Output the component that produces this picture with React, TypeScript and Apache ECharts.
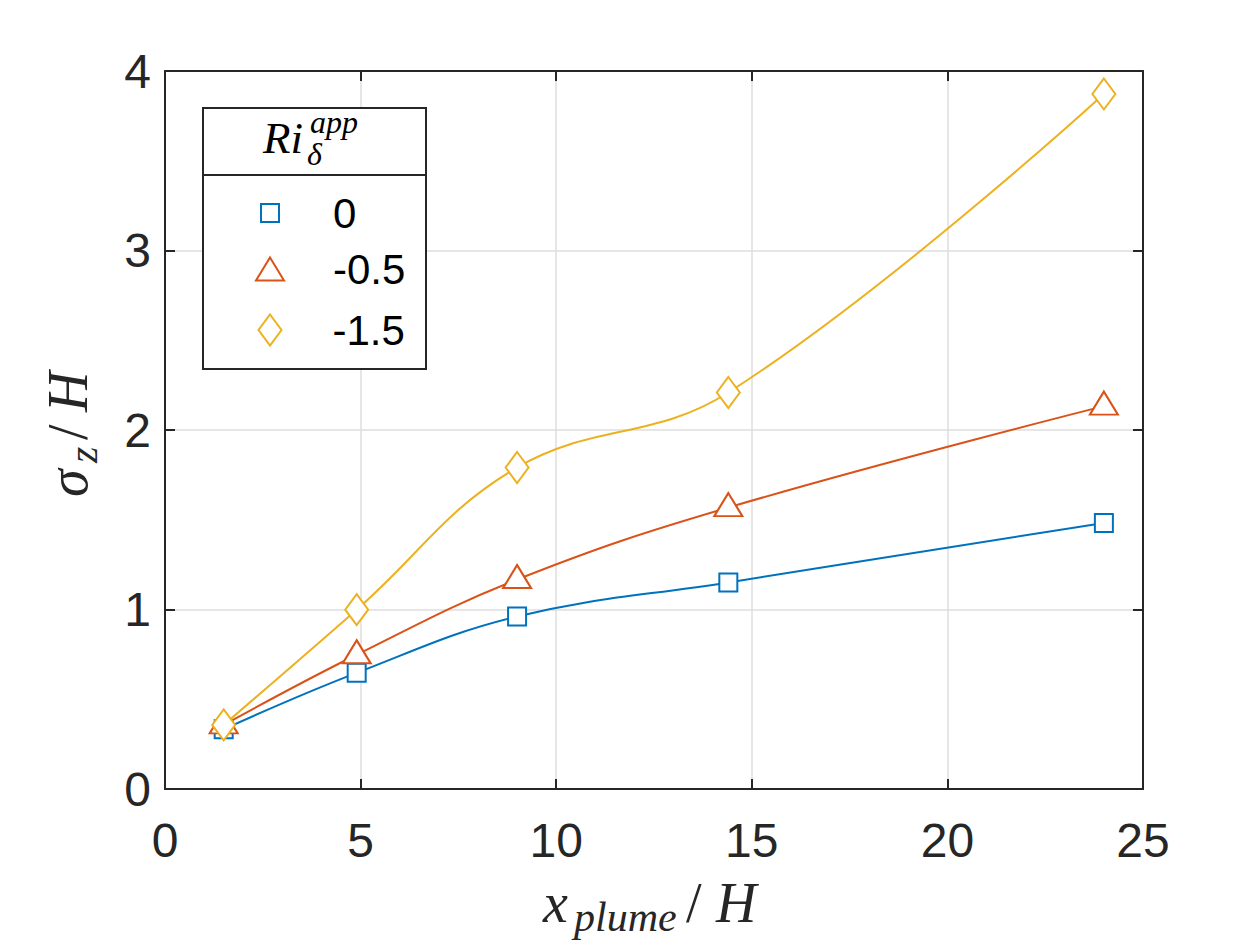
import React, { useEffect, useRef } from "react";
import * as echarts from "echarts";

// ---- data ----
const xValues = [1.5, 4.9, 9.0, 14.4, 24.0];
const seriesNames = ["0", "-0.5", "-1.5"];
const sigmaRi0 = [0.333, 0.647, 0.961, 1.151, 1.482];
const sigmaRiM05 = [0.357, 0.748, 1.167, 1.568, 2.133];
const sigmaRiM15 = [0.357, 0.999, 1.791, 2.209, 3.872];
const xTickRange = { min: 0, max: 25, step: 5 };
const yTickRange = { min: 0, max: 4, step: 1 };

const COLORS = ["#0072BD", "#D95319", "#EDB120"];
const AXIS_COLOR = "#262626";
const SANS = "Liberation Sans";
const SERIF = "Liberation Serif";

const pairs = (ys: number[]) => xValues.map((x, i) => [x, ys[i]]);

export default function App() {
  const ref = useRef<HTMLDivElement>(null);

  useEffect(() => {
    if (!ref.current) return;
    const chart = echarts.init(ref.current, undefined, { renderer: "svg" });

    const baseX = {
      type: "value" as const,
      min: xTickRange.min,
      max: xTickRange.max,
      interval: xTickRange.step,
    };
    const baseY = {
      type: "value" as const,
      min: yTickRange.min,
      max: yTickRange.max,
      interval: yTickRange.step,
    };
    const axisLine = { show: true, onZero: false, lineStyle: { color: AXIS_COLOR, width: 2 } };
    const axisTick = { show: true, inside: true, length: 10, lineStyle: { color: AXIS_COLOR, width: 2 } };
    const splitLine = { show: true, lineStyle: { color: "#dedede", width: 1.5 } };
    const tickLabel = { fontSize: 48, color: AXIS_COLOR, fontFamily: SANS };

    const symbols = ["emptyRect", "emptyTriangle", "emptyDiamond"];
    const symbolSizes: any[] = [18, [28, 23], [23, 31]];
    const symbolOffsets: any[] = [[0, 0], [0, -3], [0, 0]];
    const dataSets = [sigmaRi0, sigmaRiM05, sigmaRiM15];

    const series = seriesNames.map((name, i) => ({
      name,
      type: "line",
      data: pairs(dataSets[i]),
      smooth: 0.4,
      symbol: symbols[i],
      symbolSize: symbolSizes[i],
      symbolOffset: symbolOffsets[i],
      showAllSymbol: true,
      lineStyle: { color: COLORS[i], width: 2 },
      itemStyle: { color: COLORS[i], borderWidth: 2 },
      z: 3 + i,
    }));

    const legendTops = [192, 248, 309];
    const legendSizes = [
      [18, 18],
      [28, 23],
      [23, 31],
    ];
    const legendPads = [49, 44, 46];
    const legends = seriesNames.map((name, i) => ({
      data: [{ name, icon: symbols[i] }],
      left: 269 - legendSizes[i][0] / 2,
      top: legendTops[i],
      itemWidth: legendSizes[i][0],
      itemHeight: legendSizes[i][1],
      padding: 0,
      selectedMode: false,
      z: 10,
      textStyle: {
        fontSize: 42,
        fontFamily: SANS,
        color: "#000",
        padding: [0, 0, 0, legendPads[i]],
      },
    }));

    const serifText = (text: string, x: number, y: number, size: number, extra: any = {}) => ({
      type: "text",
      x,
      y,
      z: 12,
      style: {
        text,
        font: `italic ${size}px "${SERIF}"`,
        fill: "#262626",
        align: "left",
        verticalAlign: "middle",
        ...extra,
      },
    });

    chart.setOption({
      animation: false,
      backgroundColor: "#ffffff",
      grid: { left: 165, right: 117, top: 71, bottom: 156, containLabel: false },
      xAxis: [
        {
          ...baseX,
          position: "bottom",
          axisLine,
          axisTick,
          axisLabel: { ...tickLabel, margin: 27 },
          splitLine,
        },
        {
          ...baseX,
          position: "top",
          axisLine,
          axisTick,
          axisLabel: { show: false },
          splitLine: { show: false },
        },
      ],
      yAxis: [
        {
          ...baseY,
          position: "left",
          axisLine,
          axisTick,
          axisLabel: { ...tickLabel, margin: 14 },
          splitLine,
        },
        {
          ...baseY,
          position: "right",
          axisLine,
          axisTick,
          axisLabel: { show: false },
          splitLine: { show: false },
        },
      ],
      legend: legends,
      series,
      graphic: [
        // legend box
        {
          type: "rect",
          z: 8,
          shape: { x: 203, y: 108, width: 223, height: 261 },
          style: { fill: "#ffffff", stroke: AXIS_COLOR, lineWidth: 2 },
        },
        {
          type: "line",
          z: 9,
          shape: { x1: 203, y1: 175, x2: 426, y2: 175 },
          style: { stroke: AXIS_COLOR, lineWidth: 2 },
        },
        // legend title Ri_delta^app
        serifText("Ri", 263, 138, 45, { fill: "#000" }),
        serifText("app", 310, 122, 32, { fill: "#000" }),
        serifText("δ", 307, 154, 32, { fill: "#000" }),
        // x axis title
        serifText("x", 543, 903, 56),
        serifText("plume", 574, 917, 42),
        serifText("/", 686, 903, 56, { font: `56px "${SERIF}"` }),
        serifText("H", 716, 903, 56),
        // y axis title (rotated)
        {
          type: "group",
          x: 87,
          y: 497,
          rotation: Math.PI / 2,
          children: [
            serifText("σ", 0, -19, 56),
            serifText("z", 34, -4, 42),
            serifText("/", 57, -19, 56, { font: `56px "${SERIF}"` }),
            serifText("H", 85, -19, 56),
          ],
        },
      ],
    });

    return () => chart.dispose();
  }, []);

  return (
    <div
      ref={ref}
      style={{ position: "fixed", left: 0, top: 0, width: 1260, height: 945, background: "#fff" }}
    />
  );
}
